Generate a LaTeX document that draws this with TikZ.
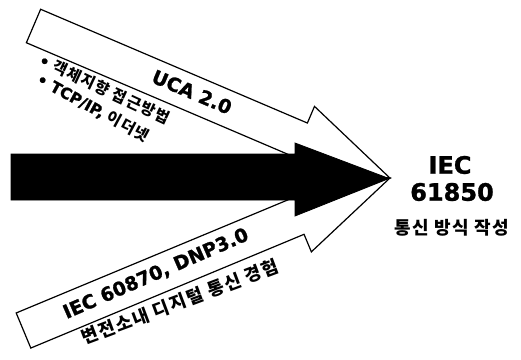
\documentclass[tikz,border=0pt]{standalone}
\usepackage{fontspec}
\setmainfont{DejaVu Sans}[BoldFeatures={FakeBold=1.2}]
\newfontfamily\kr{Noto Sans CJK KR}[LetterSpace=8]
\begin{document}
\begin{tikzpicture}[x=1pt,y=-1pt,
  outl/.style={draw=black, line width=1.2pt, line join=miter, fill=white},
  blk/.style={fill=black, draw=black, line width=0.8pt, line join=miter},
  big/.style={font=\fontsize{19}{21}\selectfont\bfseries, inner sep=0pt},
  sub/.style={font=\fontsize{15.5}{17}\selectfont\bfseries, inner sep=0pt},
  ksub/.style={font=\fontsize{18}{20}\selectfont\bfseries, inner sep=0pt},
  heavy/.style={font=\fontsize{24}{26}\selectfont\bfseries\addfontfeature{FakeBold=2.5}, inner sep=0pt},
  pics/fatarrow/.style n args={5}{code={
    \path[#5] (0,-#2) -- (#1-#4,-#2) -- (#1-#4,-#3) -- (#1,0) -- (#1-#4,#3) -- (#1-#4,#2) -- (0,#2) -- cycle;
  }}]
\useasboundingbox (0,0) rectangle (521,359);
% white arrows
\pic[shift={(33.5,26)}, rotate=-23.1] {fatarrow={387.5}{18.2}{36.3}{97.5}{outl}};
\pic[shift={(23.5,330.5)}, rotate=22.6] {fatarrow={397}{19}{38}{101}{outl}};
% black arrow
\path[blk] (11,154) -- (295,154) -- (295,143) -- (389,178.5) -- (295,216) -- (295,200) -- (11,200) -- cycle;
% texts
\node[big, rotate=-23] (uca) at (192,92) {UCA 2.0};
\node[sub, rotate=-25, anchor=west] (b1) at (40,59) {• {\kr 객체지향 접근방법}};
\node[sub, rotate=-28.5, anchor=west] (b2) at (38,78) {• TCP/IP, {\kr 이더넷}};
\node[big, rotate=23.5] (iec) at (156,274) {IEC 60870, DNP3.0};
\node[ksub, rotate=20.5] (exp) at (180,302) {\kr 변전소내 디지털 통신 경험};
\node[heavy] (t1) at (450,165) {IEC};
\node[heavy] (t2) at (452,192) {61850};
\node[ksub] (t3) at (452,228) {\kr 통신 방식 작성};
\end{tikzpicture}
\end{document}
